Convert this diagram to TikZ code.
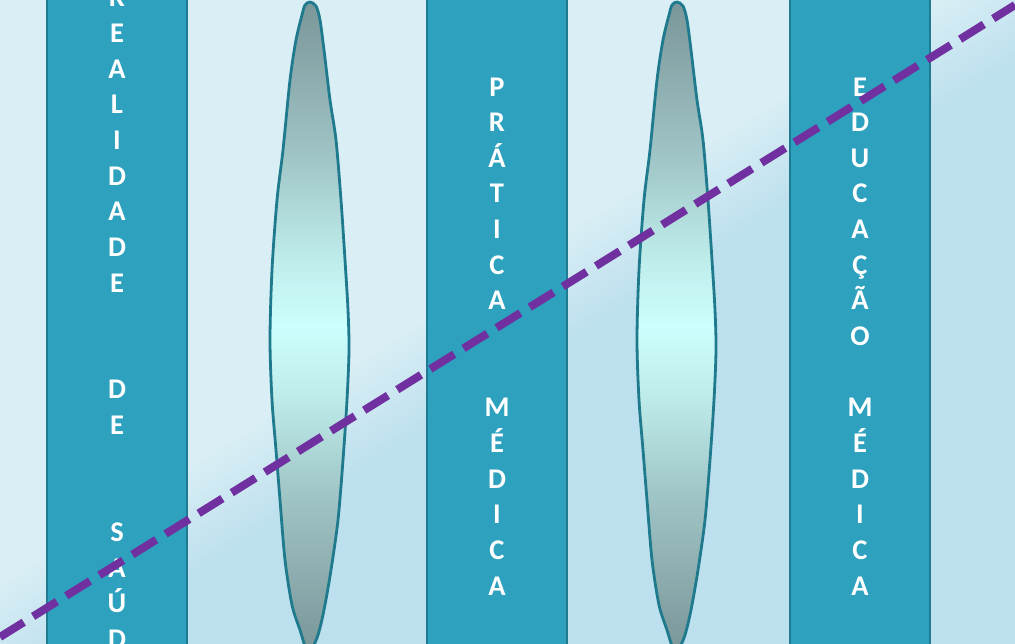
\documentclass[tikz,border=0pt]{standalone}
\usepackage{fontspec}
\setmainfont{Carlito}
\definecolor{bglight}{HTML}{D9EEF5}
\definecolor{bgdark}{HTML}{BDE0EE}
\definecolor{colfill}{HTML}{2DA1BE}
\definecolor{colline}{HTML}{1F7B91}
\definecolor{lensend}{HTML}{7A9699}
\definecolor{lensq}{HTML}{A0C5C6}
\definecolor{lensr}{HTML}{BDEBEA}
\definecolor{lensmid}{HTML}{CCFFFD}
\definecolor{lensline}{HTML}{1E7A8C}
\definecolor{dashpurple}{HTML}{7030A0}
\pgfdeclareverticalshading{bgshade}{100bp}{color(0bp)=(bgdark); color(47bp)=(bgdark); color(53bp)=(bglight); color(100bp)=(bglight)}
\pgfdeclareverticalshading{lensshade}{100bp}{color(0bp)=(lensend); color(25bp)=(lensend); color(37bp)=(lensq); color(44.5bp)=(lensr); color(50bp)=(lensmid); color(55.5bp)=(lensr); color(63bp)=(lensq); color(75bp)=(lensend); color(100bp)=(lensend)}
\tikzset{
  column/.style={draw=colline, fill=colfill, line width=2.5pt, minimum width=140pt, minimum height=670pt, inner sep=0pt},
  lens/.style={draw=lensline, line width=2.8pt, shading=lensshade},
  letter/.style={text=white, anchor=base, inner sep=0pt, font=\fontsize{28.5}{28.5}\selectfont\bfseries},
  cutline/.style={draw=dashpurple, line width=8pt, dash pattern=on 28pt off 11pt}
}
\newcommand{\lenspath}{plot[smooth cycle, tension=0.5] coordinates {
  (310,2) (316,6) (320,20) (324,50) (330,100) (336,140) (341,200) (345,260) (348,310) (349,350)
  (347,400) (343,460) (338,520) (331,570) (324,610) (318,635) (312,648)
  (306,648) (300,630) (292,605) (285,560) (280,500) (276,450) (272,400) (270,340)
  (272,270) (277,200) (283,150) (290,80) (296,40) (302,15) (305,5)}}
\begin{document}
\begin{tikzpicture}[x=1pt,y=-1pt]
\useasboundingbox (0,0) rectangle (1015,643);
\fill[shading=bgshade, shading angle=31.9] (0,0) rectangle (1015,643);
% columns
\node[column] (col1) at (117,321.5) {};
\node[column] (col2) at (497,321.5) {};
\node[column] (col3) at (860,321.5) {};
% lenses
\path[lens] \lenspath;
\begin{scope}[xshift=367pt]
\path[lens] \lenspath;
\end{scope}
% letters
\foreach \ch/\k in {R/1,E/2,A/3,L/4,I/5,D/6,A/7,D/8,E/9,D/12,E/13,S/16,A/17,Ú/18,D/19,E/20}
  \node[letter] (ra\k) at (117,{6.8+(\k-1)*35.65}) {\ch};
\foreach \ch/\k in {P/1,R/2,Á/3,T/4,I/5,C/6,A/7,M/10,É/11,D/12,I/13,C/14,A/15}
  \node[letter] (pm\k) at (497,{96+(\k-1)*35.65}) {\ch};
\foreach \ch/\k in {E/1,D/2,U/3,C/4,A/5,Ç/6,Ã/7,O/8,M/10,É/11,D/12,I/13,C/14,A/15}
  \node[letter] (em\k) at (860,{96+(\k-1)*35.65}) {\ch};
% dashed line
\coordinate (ls) at (0,637);
\coordinate (le) at (1015,5);
\draw[cutline] (ls) -- (le);
\end{tikzpicture}
\end{document}
